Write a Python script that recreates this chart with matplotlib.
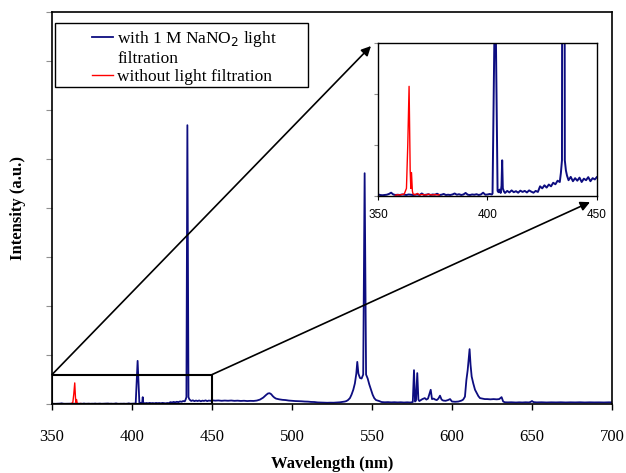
import matplotlib
matplotlib.use("Agg")
import matplotlib.pyplot as plt
from matplotlib.lines import Line2D
from matplotlib.patches import Rectangle

# blue spectrum, with 1 M NaNO2 light filtration: (wavelength nm, intensity)
# values, 1 unit = one y gridstep of the main plot
blue_uv = [
    (350, 0.006), (351, 0.004), (352, 0.003), (353, 0.004), (354, 0.005),
    (355, 0.008), (356, 0.013), (357, 0.006), (358, 0.004), (359, 0.005),
    (360, 0.004), (361, 0.006), (362, 0.005), (363, 0.004), (364, 0.006),
    (365, 0.005), (366, 0.004), (367, 0.005), (368, 0.006), (369, 0.004),
    (370, 0.010), (371, 0.004), (372, 0.005), (373, 0.007), (374, 0.004),
    (375, 0.006), (376, 0.005), (377, 0.009), (378, 0.004), (379, 0.005),
    (380, 0.008), (381, 0.004), (382, 0.005), (383, 0.004), (384, 0.006),
    (385, 0.010), (386, 0.005), (387, 0.007), (388, 0.004), (389, 0.006),
    (390, 0.012), (391, 0.005), (392, 0.004), (393, 0.006), (394, 0.005),
    (395, 0.007), (396, 0.004), (397, 0.006), (398, 0.013), (399, 0.005),
    (400, 0.006), (401, 0.008), (402, 0.006),
]
blue_violet = [
    (402.3, 0.010), (403.5, 0.88), (404.6, 0.020), (405, 0.015), (405.5, 0.025),
    (406, 0.012), (406.4, 0.040), (406.7, 0.14), (407.0, 0.030), (407.5, 0.018),
    (408, 0.012), (409, 0.020), (410, 0.014), (411, 0.022), (412, 0.015),
    (413, 0.019), (414, 0.013), (415, 0.021), (416, 0.016), (417, 0.020),
    (418, 0.014), (419, 0.022), (420, 0.017), (421, 0.013), (422, 0.020),
    (423, 0.016), (424, 0.038), (425, 0.030), (426, 0.042), (427, 0.033),
    (428, 0.045), (429, 0.038), (430, 0.052), (431, 0.046), (432, 0.060),
    (433, 0.055), (433.5, 0.090), (434.0, 0.14), (434.6, 5.69), (435.3, 0.14),
    (435.8, 0.10), (436.3, 0.080), (437, 0.062), (438, 0.075), (439, 0.058),
    (440, 0.070), (441, 0.060), (442, 0.072), (443, 0.055), (444, 0.068),
    (445, 0.062), (446, 0.074), (447, 0.058), (448, 0.070), (449, 0.065),
    (450, 0.075),
]
blue_vis = [
    (452, 0.068), (454, 0.072), (456, 0.065), (458, 0.070), (460, 0.066),
    (462, 0.071), (464, 0.064), (466, 0.068), (468, 0.062), (470, 0.066),
    (472, 0.060), (474, 0.064), (476, 0.062), (478, 0.070), (480, 0.090),
    (482, 0.13), (484, 0.19), (485, 0.215), (486, 0.22), (487, 0.20),
    (488, 0.16), (489, 0.13), (490, 0.11), (492, 0.095), (494, 0.085),
    (496, 0.080), (498, 0.070), (500, 0.065), (502, 0.060), (504, 0.058),
    (506, 0.055), (508, 0.050), (510, 0.048), (512, 0.042), (514, 0.040),
    (516, 0.032), (518, 0.030), (520, 0.028), (522, 0.025), (524, 0.027),
    (526, 0.026), (528, 0.030), (530, 0.035), (532, 0.045), (533, 0.05),
    (534, 0.06), (535, 0.08), (536.2, 0.12), (537.2, 0.19), (538.3, 0.29),
    (539.3, 0.42), (540.2, 0.62), (540.8, 0.86), (541.5, 0.62), (542.5, 0.53),
    (543.5, 0.52), (544.5, 0.60), (545.4, 4.71), (546.3, 0.60), (547.3, 0.52),
    (548.3, 0.40), (549.4, 0.29), (550.4, 0.19), (551.4, 0.12), (552.5, 0.08),
    (554.5, 0.06), (556, 0.040), (558, 0.035), (560, 0.038), (562, 0.033),
    (564, 0.036), (566, 0.032), (568, 0.035), (570, 0.030), (572, 0.034),
    (574, 0.030), (575.5, 0.040), (576.25, 0.69), (576.9, 0.05), (577.5, 0.07),
    (578.3, 0.63), (579.0, 0.09), (579.6, 0.06), (580.5, 0.08), (581.5, 0.10),
    (583, 0.12), (584, 0.09), (585, 0.11), (586.7, 0.29), (587.5, 0.10),
    (588.5, 0.11), (589.5, 0.09), (590.5, 0.08), (591.5, 0.11), (592.5, 0.17),
    (593.5, 0.09), (594.5, 0.07), (596, 0.065), (597.5, 0.08), (598.8, 0.10),
    (600, 0.05), (602, 0.045), (604, 0.05), (606, 0.07), (607, 0.09),
    (608.1, 0.15), (609.0, 0.49), (609.8, 0.69), (611.0, 1.12), (611.6, 0.80),
    (612.3, 0.56), (613.3, 0.42), (614.4, 0.29), (615.5, 0.22), (616.5, 0.16),
    (617.5, 0.12), (619, 0.11), (620.5, 0.10), (622, 0.10), (624, 0.095),
    (626, 0.10), (628, 0.095), (629.5, 0.10), (631, 0.14), (632, 0.05),
    (633, 0.035), (635, 0.033), (637, 0.035), (640, 0.030), (642, 0.034),
    (644, 0.031), (646, 0.035), (648, 0.032), (649, 0.040), (650, 0.060),
    (651, 0.038), (653, 0.033), (656, 0.035), (659, 0.031), (662, 0.034),
    (665, 0.032), (668, 0.035), (671, 0.031), (674, 0.034), (677, 0.032),
    (680, 0.035), (683, 0.031), (686, 0.034), (689, 0.032), (692, 0.033),
    (695, 0.031), (698, 0.034), (700, 0.033),
]

# red spectrum, without light filtration
red_pts = [
    (358, 0.003), (359, 0.005), (360, 0.004), (361, 0.006), (362, 0.008),
    (363, 0.030), (363.6, 0.20), (364.2, 0.43), (364.7, 0.10), (365.0, 0.030),
    (365.3, 0.092), (365.7, 0.020), (366, 0.008), (367, 0.005), (368, 0.010),
    (369, 0.004), (370, 0.006), (371, 0.005), (372, 0.004), (373, 0.007),
    (374, 0.005), (375, 0.004), (376, 0.006), (377, 0.004), (378, 0.005),
]

blue_label = ['with 1 M NaNO$_2$ light', 'filtration']
red_label = 'without light filtration'
navy = '#0d0d80'

blue_wl, blue_int = zip(*(blue_uv + blue_violet + blue_vis))
red_wl, red_int = zip(*red_pts)

fig = plt.figure(figsize=(6.26, 4.73), dpi=100)
ax = fig.add_axes([0.0831, 0.1459, 0.8945, 0.8287])

l_blue, = ax.plot(blue_wl, blue_int, color=navy, lw=1.3)
l_red, = ax.plot(red_wl, red_int, color='#ff0000', lw=1.0)

ax.set_xlim(350, 700)
ax.set_ylim(0, 8)
ax.set_xticks(range(350, 701, 50))
ax.set_yticks(range(0, 9))
ax.set_yticklabels([])
for lab in ax.get_xticklabels():
    lab.set_family('Liberation Serif')
    lab.set_fontsize(12)
ax.tick_params(axis='x', direction='out', length=4, width=1, pad=14)
ax.tick_params(axis='y', direction='out', length=4, width=0.8, colors='#909090')
for s in ax.spines.values():
    s.set_linewidth(1.2)
ax.set_xlabel('Wavelength (nm)', family='Liberation Serif', fontsize=12,
              fontweight='bold', labelpad=8)
ax.set_ylabel('Intensity (a.u.)', family='Liberation Serif', fontsize=12,
              fontweight='bold')
ax.yaxis.set_label_coords(-0.046, 0.5)

# legend: the first label wraps onto a second line, handle sits on line one
blank = Line2D([], [], color='none')
leg = ax.legend([l_blue, blank, l_red], blue_label + [red_label],
                loc='upper left', bbox_to_anchor=(0.0714, 0.956),
                prop={'family': 'Liberation Serif', 'size': 12.5},
                frameon=False, borderpad=0, borderaxespad=0,
                handlelength=1.2, handletextpad=0.25, labelspacing=0.1)
ax.add_patch(Rectangle((0.0054, 0.809), 0.4516, 0.163, transform=ax.transAxes,
                       fill=False, edgecolor='black', lw=1.0, zorder=4))

# zoom box in the main plot
ax.add_patch(Rectangle((350, 0), 100, 0.6, fill=False, edgecolor='black', lw=1.5,
                       zorder=3))

# inset
axin = fig.add_axes([0.6038, 0.5856, 0.3499, 0.3235])
axin.plot(blue_wl, blue_int, color=navy, lw=1.4)
axin.plot(red_wl, red_int, color='#ff0000', lw=1.0)
axin.set_xlim(350, 450)
axin.set_ylim(0, 0.6)
axin.set_xticks([350, 400, 450])
axin.set_yticks([0, 0.2, 0.4, 0.6])
axin.set_yticklabels([])
for lab in axin.get_xticklabels():
    lab.set_family('Liberation Sans')
    lab.set_fontsize(8.5)
axin.tick_params(axis='x', direction='out', length=3, width=0.8, pad=6)
axin.tick_params(axis='y', direction='out', length=3, width=0.8, colors='#909090')
for s in axin.spines.values():
    s.set_linewidth(1.0)

# arrows from the zoom box to the inset
arrow = dict(arrowstyle='-|>', color='black', lw=1.2, mutation_scale=14,
             shrinkA=0, shrinkB=0)
ax.annotate('', xy=(-0.032, 0.98), xycoords=axin.transAxes,
            xytext=(350, 0.6), textcoords='data', arrowprops=arrow)
ax.annotate('', xy=(0.968, -0.04), xycoords=axin.transAxes,
            xytext=(450, 0.6), textcoords='data', arrowprops=arrow)

fig.savefig('out.png', dpi=100)
